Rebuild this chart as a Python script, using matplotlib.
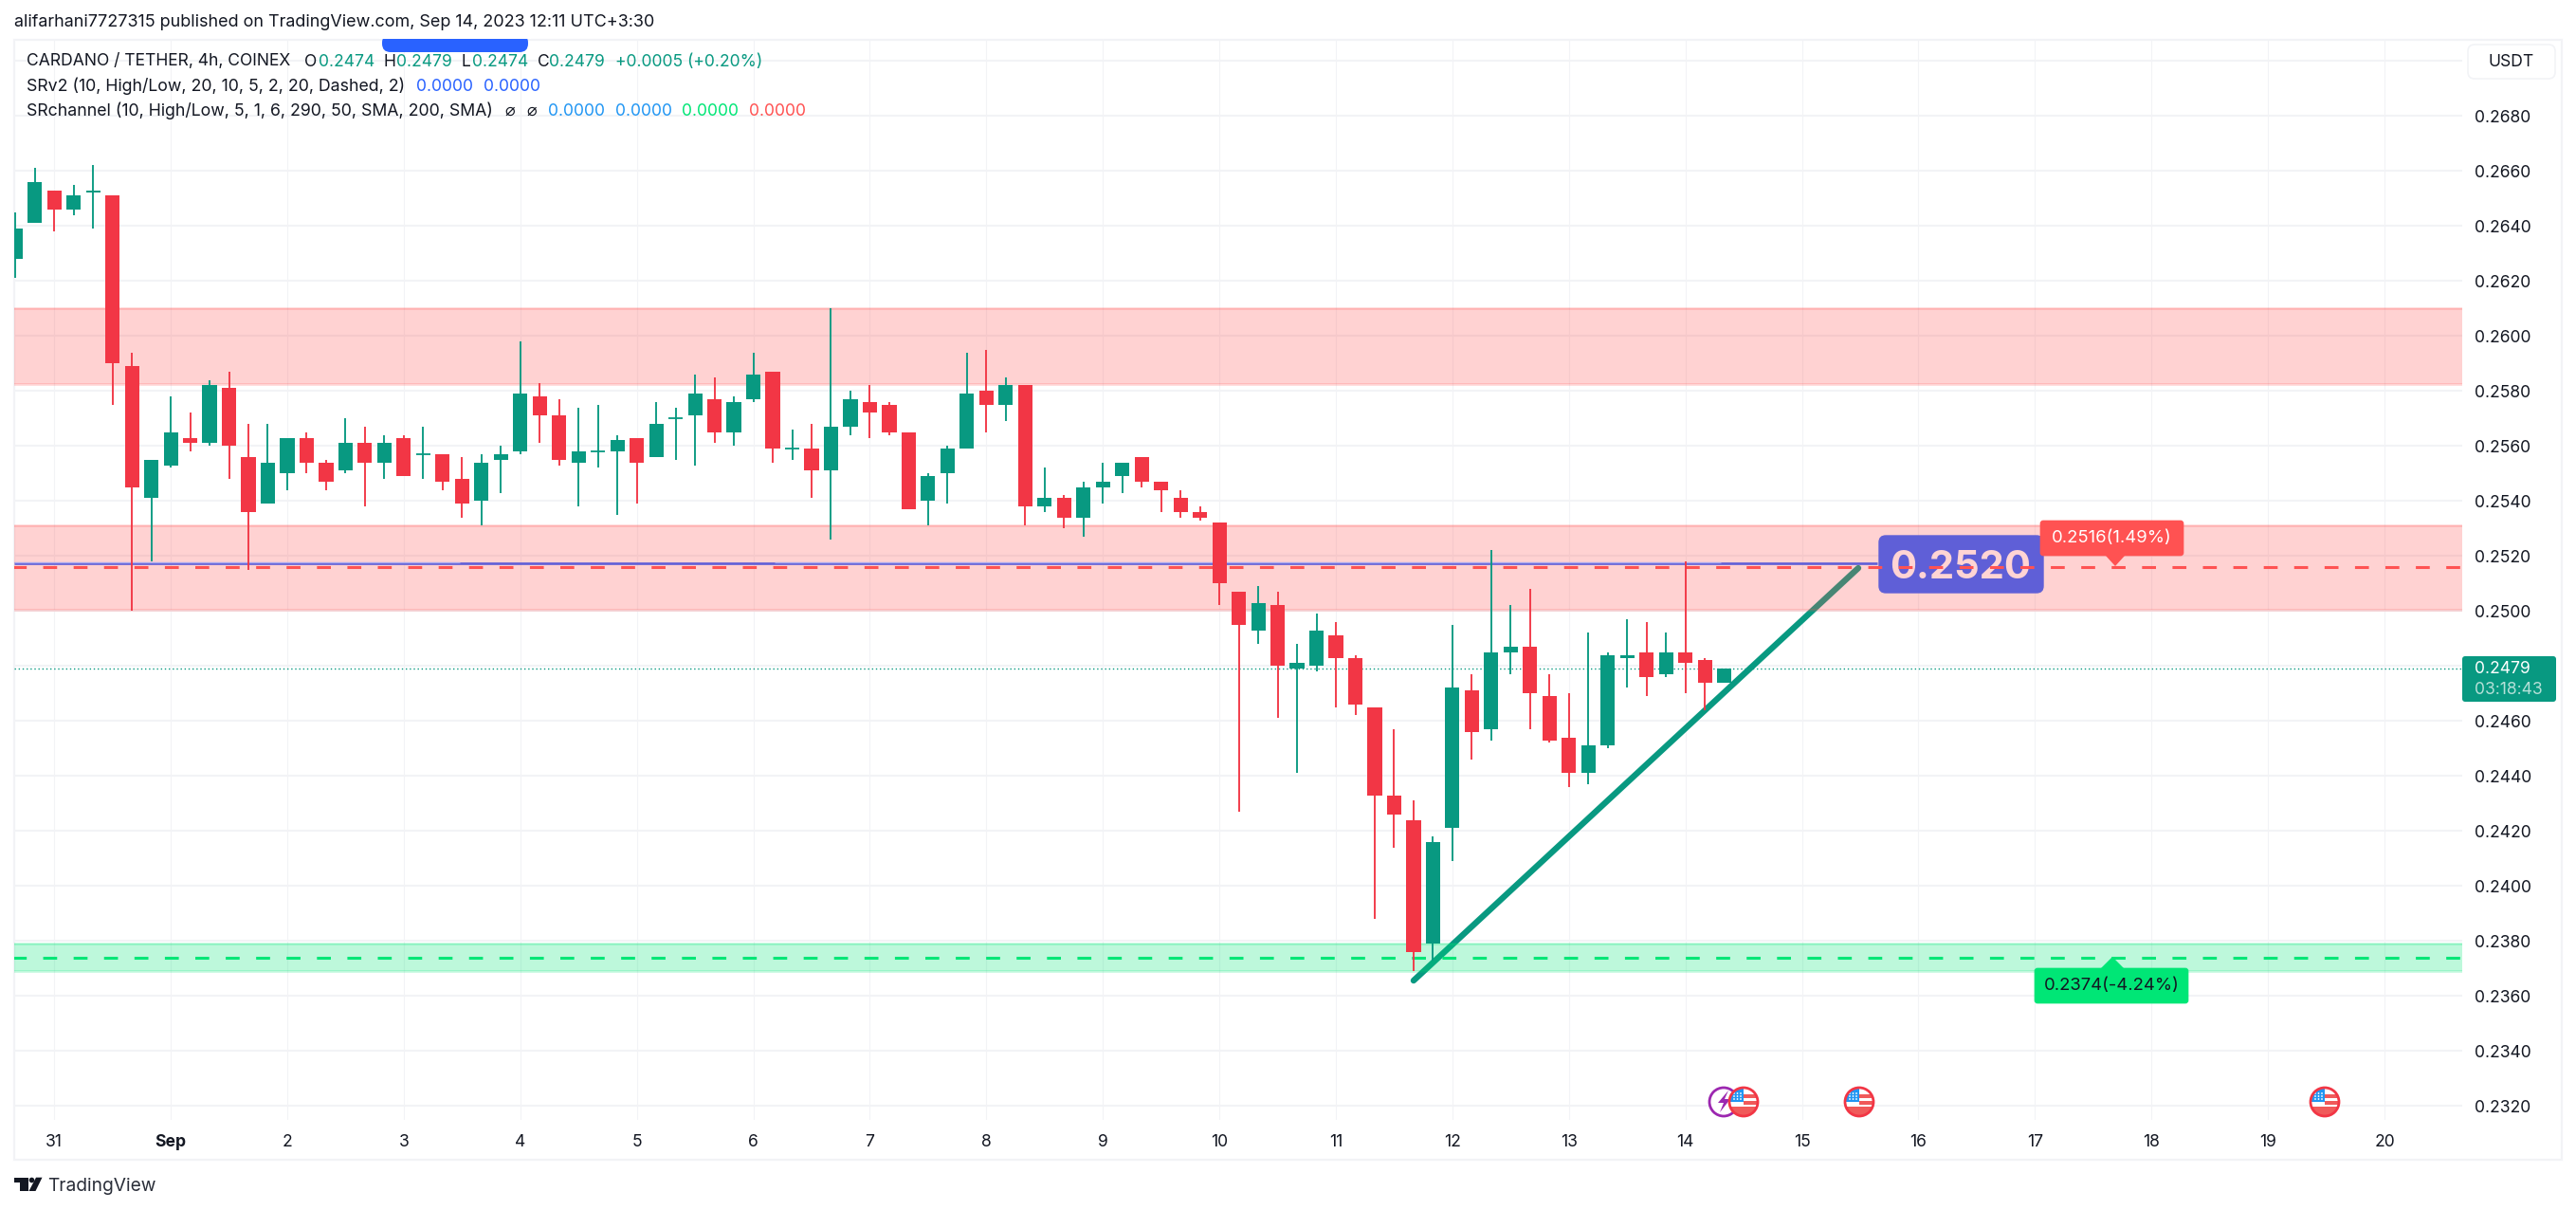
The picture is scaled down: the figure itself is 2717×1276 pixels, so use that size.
import numpy as np
import matplotlib
matplotlib.use("Agg")
import matplotlib.pyplot as plt
from matplotlib.patches import FancyBboxPatch, Polygon, Circle, Rectangle
from matplotlib.transforms import Affine2D

# ---- data: 4h candles, index counted in bars from Aug 31 00:00
bar_index = list(range(-2, 87))
opens = [0.2628,0.2641,0.2653,0.2646,0.2652,0.2651,0.2589,0.2541,0.2553,0.2563,0.2561,0.2581,0.2556,0.2539,0.2550,0.2563,0.2554,0.2551,0.2561,0.2554,0.2563,0.2557,0.2557,0.2548,0.2540,0.2555,0.2558,0.2578,0.2571,0.2554,0.2558,0.2558,0.2563,0.2556,0.2570,0.2571,0.2577,0.2565,0.2577,0.2587,0.2559,0.2559,0.2551,0.2567,0.2576,0.2575,0.2565,0.2540,0.2550,0.2559,0.2580,0.2575,0.2582,0.2538,0.2541,0.2534,0.2545,0.2549,0.2556,0.2547,0.2541,0.2536,0.2532,0.2507,0.2493,0.2502,0.2479,0.2480,0.2491,0.2483,0.2465,0.2433,0.2424,0.2379,0.2421,0.2471,0.2457,0.2485,0.2487,0.2469,0.2454,0.2441,0.2451,0.2483,0.2485,0.2477,0.2485,0.2482,0.2474]
highs = [0.2645,0.2661,0.2653,0.2655,0.2662,0.2651,0.2594,0.2555,0.2578,0.2572,0.2584,0.2587,0.2568,0.2568,0.2563,0.2565,0.2555,0.2570,0.2567,0.2564,0.2564,0.2567,0.2557,0.2556,0.2557,0.2560,0.2598,0.2583,0.2577,0.2574,0.2575,0.2564,0.2563,0.2576,0.2574,0.2586,0.2585,0.2578,0.2594,0.2587,0.2566,0.2568,0.2610,0.2580,0.2582,0.2576,0.2565,0.2550,0.2560,0.2594,0.2595,0.2585,0.2582,0.2552,0.2542,0.2547,0.2554,0.2554,0.2556,0.2547,0.2544,0.2538,0.2532,0.2507,0.2509,0.2507,0.2488,0.2499,0.2496,0.2484,0.2465,0.2457,0.2431,0.2418,0.2495,0.2477,0.2522,0.2502,0.2508,0.2477,0.2470,0.2492,0.2485,0.2497,0.2496,0.2492,0.2518,0.2483,0.2479]
lows = [0.2621,0.2641,0.2638,0.2644,0.2639,0.2575,0.2500,0.2518,0.2552,0.2558,0.2560,0.2548,0.2515,0.2539,0.2544,0.2550,0.2544,0.2550,0.2538,0.2548,0.2549,0.2548,0.2544,0.2534,0.2531,0.2543,0.2557,0.2561,0.2553,0.2538,0.2552,0.2535,0.2539,0.2556,0.2555,0.2553,0.2561,0.2560,0.2576,0.2554,0.2555,0.2541,0.2526,0.2564,0.2563,0.2564,0.2537,0.2531,0.2539,0.2559,0.2565,0.2569,0.2531,0.2536,0.2530,0.2527,0.2539,0.2543,0.2545,0.2536,0.2534,0.2533,0.2502,0.2427,0.2488,0.2461,0.2441,0.2478,0.2465,0.2462,0.2388,0.2414,0.2369,0.2373,0.2409,0.2446,0.2453,0.2477,0.2457,0.2452,0.2436,0.2437,0.2450,0.2472,0.2469,0.2476,0.2470,0.2464,0.2474]
closes = [0.2639,0.2656,0.2646,0.2651,0.2653,0.2590,0.2545,0.2555,0.2565,0.2561,0.2582,0.2560,0.2536,0.2554,0.2563,0.2554,0.2547,0.2561,0.2554,0.2561,0.2549,0.2557,0.2547,0.2539,0.2554,0.2557,0.2579,0.2571,0.2555,0.2558,0.2558,0.2562,0.2554,0.2568,0.2570,0.2579,0.2565,0.2576,0.2586,0.2559,0.2559,0.2551,0.2567,0.2577,0.2572,0.2565,0.2537,0.2549,0.2559,0.2579,0.2575,0.2582,0.2538,0.2541,0.2534,0.2545,0.2547,0.2554,0.2547,0.2544,0.2536,0.2534,0.2510,0.2495,0.2503,0.2480,0.2481,0.2493,0.2483,0.2466,0.2433,0.2426,0.2376,0.2416,0.2472,0.2456,0.2485,0.2487,0.2470,0.2453,0.2441,0.2451,0.2484,0.2484,0.2476,0.2485,0.2481,0.2474,0.2479]

price_ticks = [0.2320,0.2340,0.2360,0.2380,0.2400,0.2420,0.2440,0.2460,0.2480,0.2500,0.2520,0.2540,0.2560,0.2580,0.2600,0.2620,0.2640,0.2660,0.2680,0.2700]
hidden_price_labels = [0.2480, 0.2700]   # covered by the last-price box and the USDT button
day_ticks = [0,6,12,18,24,30,36,42,48,54,60,66,72,78,84,90,96,102,108,114,120]
day_labels = ["31","Sep","2","3","4","5","6","7","8","9","10","11","12","13","14","15","16","17","18","19","20"]

upper_zone = (0.25825, 0.2610)
middle_zone = (0.25005, 0.2531)
lower_zone = (0.23692, 0.2379)
resistance_level = 0.2516
support_level = 0.2374
srv2_level = 0.25175
last_price = 0.2479
trend_x = [70.0, 92.9]
trend_y = [0.23656, 0.25156]

GREEN = "#089981"; RED = "#f23645"; GRID = "#f2f3f6"; INK = "#131722"
ZONE_RED = "#ff5252"; ZONE_GREEN = "#00e676"; BLUE = "#5f5fd7"

plt.rcParams["font.family"] = ["Inter", "DejaVu Sans"]
W, H = 2717, 1276
fig = plt.figure(figsize=(W/100, H/100), dpi=100, facecolor="white")
L, R, T, B = 15, 2597, 43, 1181
ax = fig.add_axes([L/W, 1-B/H, (R-L)/W, (B-T)/H], facecolor="white")
px = Affine2D().scale(1, -1).translate(0, H)      # image-pixel layout coordinates

ax.set_xlim(-2.06, 124.0)
ax.set_ylim(0.231493, 0.270734)
for s in ax.spines.values():
    s.set_visible(False)
ax.set_axisbelow(True)
ax.yaxis.tick_right()
ax.set_yticks(price_ticks)
ax.set_yticklabels(["" if v in hidden_price_labels else f"{v:.4f}" for v in price_ticks], fontsize=12.6, color=INK)
ax.set_xticks(day_ticks)
ax.set_xticklabels(day_labels, fontsize=12.6, color=INK)
ax.get_xticklabels()[1].set_fontweight("bold")
ax.tick_params(axis="both", length=0)
ax.tick_params(axis="y", pad=9.5)
ax.tick_params(axis="x", pad=11)
ax.grid(axis="y", color=GRID, lw=1.5)
ax.grid(axis="x", color=GRID, lw=0.8)

# trend line runs under the zones
ax.plot(trend_x, trend_y, color=GREEN, lw=4.6, solid_capstyle="round", zorder=1.5)

# zones
for (lo, hi), c in [(upper_zone, ZONE_RED), (middle_zone, ZONE_RED), (lower_zone, ZONE_GREEN)]:
    ax.axhspan(lo, hi, facecolor=c, edgecolor="none", alpha=0.26, zorder=2)
    ax.axhline(lo, color=c, alpha=0.25, lw=1.8, zorder=2.1)
    ax.axhline(hi, color=c, alpha=0.25, lw=1.8, zorder=2.1)

# SRv2 line and its paler overlapping segments
ax.plot([-2.06, 93.9], [srv2_level]*2, color=BLUE, lw=1.9, solid_capstyle="butt", zorder=2.5)
for a, b in [(-2.06, 20.9), (37.1, 85.8)]:
    ax.plot([a, b], [srv2_level+0.00002]*2, color="#a9a9ee", lw=1.0, solid_capstyle="butt", zorder=2.6)

# last price
ax.axhline(last_price, color=GREEN, lw=1.0, ls=(0, (1, 2)), zorder=2.7)

# blue tag
tag = FancyBboxPatch((1982, 565), 173, 60, boxstyle="round,pad=0,rounding_size=7", fc=BLUE, ec=BLUE, lw=1,
                     transform=px, clip_on=False, zorder=3)
ax.add_patch(tag)
ax.text(2068, 599, "0.2520", transform=px, color="#ffd4d4", fontsize=30, fontweight="bold",
        ha="center", va="center", zorder=3.2)

# dashed levels
ax.plot([-2.16, 124], [resistance_level]*2, color=ZONE_RED, lw=2.2, dashes=(4.8, 5.7), dash_capstyle="butt", zorder=4)
ax.plot([-2.16, 124], [support_level]*2, color=ZONE_GREEN, lw=2.2, dashes=(4.8, 5.7), dash_capstyle="butt", zorder=4)

# candles
x = np.array(bar_index, dtype=float)
o, h, l, c = map(np.array, (opens, highs, lows, closes))
cols = [GREEN if ci >= oi else RED for oi, ci in zip(o, c)]
ax.vlines(x, l, h, colors=cols, lw=1.35, zorder=6)
ax.bar(x, np.abs(c-o), bottom=np.minimum(o, c), width=0.74, color=cols, linewidth=0, zorder=6.1)
flat = o == c
ax.hlines(o[flat], x[flat]-0.37, x[flat]+0.37, colors=GREEN, lw=1.3, zorder=6.1)

# tooltips
def tip(x0, y0, x1, y1, tail, color, text, tcolor):
    ax.add_patch(FancyBboxPatch((x0, y0), x1-x0, y1-y0, boxstyle="round,pad=0,rounding_size=3", fc=color, ec=color, lw=0.5,
                                transform=px, clip_on=False, zorder=7))
    ax.add_patch(Polygon(tail, closed=True, fc=color, ec="none", transform=px, clip_on=False, zorder=7))
    ax.text((x0+x1)/2, (y0+y1)/2, text, color=tcolor, fontsize=13.3, ha="center", va="center",
            transform=px, zorder=7.1)

tip(2152, 549, 2303, 586, [(2221, 586), (2241, 586), (2231, 597)], ZONE_RED, "0.2516(1.49%)", "white")
tip(2146, 1021, 2308, 1058, [(2216, 1021), (2240, 1021), (2228, 1009)], ZONE_GREEN, "0.2374(-4.24%)", INK)

# chrome
ax.add_patch(Rectangle((15, 42), 2687, 1181, fc="none", ec=GRID, lw=1.6, transform=px, clip_on=False, zorder=0.2))
ax.add_patch(FancyBboxPatch((403, 36), 154, 19, boxstyle="round,pad=0,rounding_size=9", fc="#2962ff", ec="none",
                            transform=px, clip_on=False, zorder=8))
ax.add_patch(Rectangle((400, 30), 160, 11, fc="white", ec="none", transform=px, clip_on=False, zorder=8.1))

def label(x0, y0, s, color=INK, size=12.75, **kw):
    ax.text(x0, y0, s, color=color, fontsize=size, va="center", ha=kw.pop("ha", "left"), transform=px, zorder=9, **kw)

label(15, 24, "alifarhani7727315 published on TradingView.com, Sep 14, 2023 12:11 UTC+3:30", size=12.95)
label(27.5, 65, "CARDANO / TETHER, 4h, COINEX", size=12.6)
for xp, s, col in [(321.5, "O", INK), (336, "0.2474", GREEN), (405, "H", INK), (418, "0.2479", GREEN),
                   (487, "L", INK), (498, "0.2474", GREEN), (566.6, "C", INK), (579, "0.2479", GREEN),
                   (649, "+0.0005 (+0.20%)", GREEN)]:
    label(xp, 65, s, col, size=12.6)
label(27.5, 91, "SRv2 (10, High/Low, 20, 10, 5, 2, 20, Dashed, 2)")
label(439, 91, "0.0000", "#2962ff", size=12.6); label(510, 91, "0.0000", "#2962ff", size=12.6)
label(27.5, 117, "SRchannel (10, High/Low, 5, 1, 6, 290, 50, SMA, 200, SMA)")
label(532, 117, "\u2300"); label(555, 117, "\u2300")
label(578, 117, "0.0000", "#2196f3", size=12.6); label(649, 117, "0.0000", "#2196f3", size=12.6)
label(719, 117, "0.0000", ZONE_GREEN, size=12.6); label(790, 117, "0.0000", ZONE_RED, size=12.6)

# USDT button
ax.add_patch(FancyBboxPatch((2603, 47), 92, 36, boxstyle="round,pad=0,rounding_size=7", fc="white", ec=GRID, lw=1.2,
                            transform=px, clip_on=False, zorder=8))
label(2649, 65, "USDT", ha="center", size=12.6)

# last price box
ax.add_patch(FancyBboxPatch((2597, 692), 99, 48, boxstyle="round,pad=0,rounding_size=3", fc=GREEN, ec="none",
                            transform=px, clip_on=False, zorder=8))
label(2610, 706, "0.2479", "white", size=12.6)
label(2610, 727, "03:18:43", "#b5e0d8", size=12.6)

# event icons
def clipped(patch, clip):
    ax.add_patch(patch); patch.set_clip_path(clip)

def flag(cx, cy):
    ring = Circle((cx, cy), 15, fc="white", ec="none", transform=px, clip_on=False, zorder=8)
    ax.add_patch(ring)
    for rx, ry, rw, rh, col in [(cx-15, cy-15, 15, 15, "#2196f3"), (cx, cy-8, 15, 4, "#f05a5a"),
                                (cx, cy-1, 15, 4, "#f05a5a"), (cx-15, cy+5, 30, 10, "#f05a5a")]:
        clipped(Rectangle((rx, ry), rw, rh, fc=col, ec="none", transform=px, zorder=8.1), ring)
    for dx in (-10, -6.5, -3):
        for dy in (-9, -6, -3):
            ax.add_patch(Circle((cx+dx, cy+dy), 0.9, fc="white", ec="none", transform=px, clip_on=False, zorder=8.2))
    ax.add_patch(Circle((cx, cy), 15, fc="none", ec=RED, lw=2.0, transform=px, clip_on=False, zorder=8.3))

ax.add_patch(Circle((1818, 1162), 15, fc="white", ec="#9c27b0", lw=2.0, transform=px, clip_on=False, zorder=7.8))
ax.add_patch(Polygon([(1823, 1150), (1812, 1163), (1818, 1163), (1814, 1173), (1825, 1159), (1819, 1159)],
                     closed=True, fc="#9c27b0", ec="none", transform=px, clip_on=False, zorder=7.9))
for cx in (1839, 1961, 2452):
    flag(cx, 1162)

# TradingView logo
logo = "#131722"
ax.add_patch(Polygon([(15, 1241.7), (30, 1241.7), (30, 1256), (21, 1256), (21, 1247), (15, 1247)],
                     closed=True, fc=logo, ec="none", transform=px, clip_on=False, zorder=9))
ax.add_patch(Circle((33.5, 1244.5), 2.8, fc=logo, ec="none", transform=px, clip_on=False, zorder=9))
ax.add_patch(Polygon([(38, 1241.7), (44.5, 1241.7), (37.5, 1256), (30.5, 1256)],
                     closed=True, fc=logo, ec="none", transform=px, clip_on=False, zorder=9))
label(50, 1251, "TradingView", "#2a2e39", size=13.8)

fig.savefig("out.png", dpi=100, facecolor="white")
